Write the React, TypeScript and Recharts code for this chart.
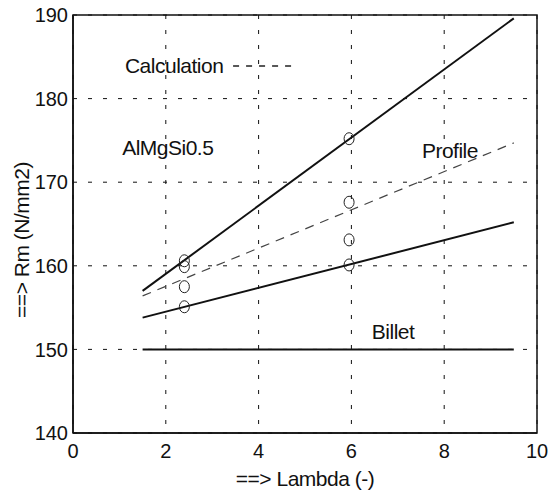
import {
  LineChart,
  Line,
  Scatter,
  XAxis,
  YAxis,
  CartesianGrid,
  ReferenceArea,
  Label,
} from "recharts";

const FONT = "'Liberation Sans', Arial, sans-serif";

// x range of the fitted lines
const lambdaEnds = [1.5, 9.5];
const upperLine = [157.0, 189.6];
const calcLine = [156.4, 174.7];
const lowerLine = [153.8, 165.2];
const billetLine = [150, 150];

// measured points
const lambdaMeas = [2.4, 2.4, 2.4, 2.4, 5.95, 5.95, 5.95, 5.95];
const rmMeas = [160.6, 159.9, 157.5, 155.1, 175.2, 167.6, 163.1, 160.1];

// legend dash next to "Calculation"
const calcLegendX = [3.45, 4.75];
const calcLegendY = [183.9, 183.9];

// text annotations
const noteText = ["Calculation", "AlMgSi0.5", "Profile", "Billet"];
const noteX = [1.12, 1.06, 7.52, 6.44];
const noteY = [183.9, 174.1, 173.8, 152.1];

const xTicks = [0, 2, 4, 6, 8, 10];
const yTicks = [140, 150, 160, 170, 180, 190];

const toPts = (xs: number[], ys: number[]) => xs.map((x, i) => ({ x, y: ys[i] }));

const notes = noteText.map((t, i) => ({ x: noteX[i], y: noteY[i], text: t }));

const Circle = (p: any) => (
  <ellipse cx={p.cx} cy={p.cy} rx={5} ry={6} fill="none" stroke="#222" strokeWidth={1} />
);

const Note = (p: any) => (
  <text x={p.cx} y={p.cy} dy="0.35em" fontSize={21} fontFamily={FONT} fill="#111" letterSpacing={-0.5}>
    {p.payload.text}
  </text>
);

const YLabel = (p: any) => {
  const vb = p.viewBox;
  const cx = 21;
  const cy = vb.y + vb.height / 2 + 16;
  return (
    <text x={cx} y={cy} transform={`rotate(-90 ${cx} ${cy})`} textAnchor="middle" dominantBaseline="central"
      fontSize={21} fontFamily={FONT} fill="#111" letterSpacing={-0.5}>
      {"==> Rm (N/mm2)"}
    </text>
  );
};

const tick = { fill: "#111", fontSize: 20, fontFamily: FONT };

export default function App() {
  return (
    <div style={{ position: "absolute", left: 0, top: 0, background: "#fff" }}>
      <LineChart width={550} height={491} margin={{ top: 15, right: 13, left: 0, bottom: 0 }}>
        <CartesianGrid stroke="#111" strokeDasharray="4 11" strokeWidth={1} />
        <XAxis
          type="number"
          dataKey="x"
          domain={[0, 10]}
          ticks={xTicks}
          height={58}
          tick={tick}
          tickLine={false}
          tickSize={0}
          tickMargin={11}
          axisLine={{ stroke: "#111", strokeWidth: 1.5 }}
        >
          <Label value="==> Lambda (-)" position="insideBottom" offset={5}
            style={{ fontSize: 21, fontFamily: FONT, fill: "#111", letterSpacing: -0.5 }} />
        </XAxis>
        <YAxis
          type="number"
          dataKey="y"
          domain={[140, 190]}
          ticks={yTicks}
          width={73}
          tick={tick}
          tickLine={false}
          tickSize={0}
          tickMargin={5}
          axisLine={{ stroke: "#111", strokeWidth: 1.5 }}
        >
          <Label content={<YLabel />} />
        </YAxis>
        <ReferenceArea x1={0} x2={10} y1={140} y2={190} fill="none" stroke="#111" strokeWidth={1.5} ifOverflow="visible" />
        <Line data={toPts(lambdaEnds, billetLine)} dataKey="y" stroke="#111" strokeWidth={2} dot={false} isAnimationActive={false} />
        <Line data={toPts(lambdaEnds, lowerLine)} dataKey="y" stroke="#111" strokeWidth={2} dot={false} isAnimationActive={false} />
        <Line data={toPts(lambdaEnds, upperLine)} dataKey="y" stroke="#111" strokeWidth={2} dot={false} isAnimationActive={false} />
        <Line data={toPts(lambdaEnds, calcLine)} dataKey="y" stroke="#444" strokeWidth={1.2} strokeDasharray="9 7" dot={false} isAnimationActive={false} />
        <Line data={toPts(calcLegendX, calcLegendY)} dataKey="y" stroke="#222" strokeWidth={1.5} strokeDasharray="6 7" dot={false} isAnimationActive={false} />
        <Scatter data={toPts(lambdaMeas, rmMeas)} dataKey="y" shape={<Circle />} isAnimationActive={false} />
        <Scatter data={notes} dataKey="y" shape={<Note />} isAnimationActive={false} />
      </LineChart>
    </div>
  );
}
